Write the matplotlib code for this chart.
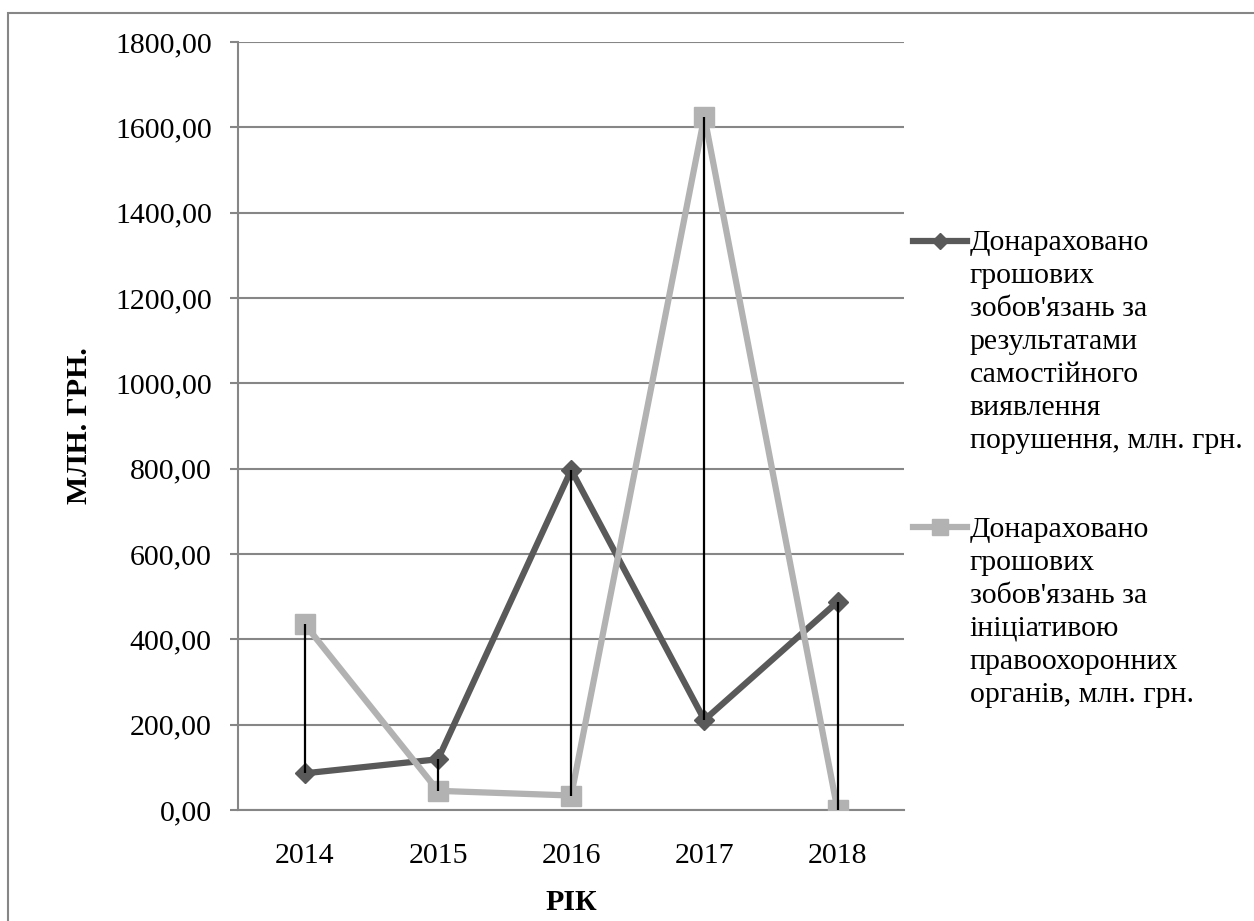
import matplotlib.pyplot as plt
from matplotlib.patches import Rectangle
from matplotlib.ticker import FuncFormatter

plt.rcParams['font.family'] = ['Liberation Serif', 'DejaVu Serif']

# Дані
years = ['2014', '2015', '2016', '2017', '2018']
samostiyno = [86, 119, 797, 211, 488]
pravoohor = [435, 45, 34, 1625, 0]

label_1 = "Донараховано\nгрошових\nзобов'язань за\nрезультатами\nсамостійного\nвиявлення\nпорушення, млн. грн."
label_2 = "Донараховано\nгрошових\nзобов'язань за\nініціативою\nправоохоронних\nорганів, млн. грн."

grid_color = '#868686'
fs = 21.5

fig = plt.figure(figsize=(12.54, 9.21), dpi=100)
ax = fig.add_axes([0.190, 0.1205, 0.531, 0.834])

x = list(range(len(years)))
ax.plot(x, samostiyno, color='#595959', lw=4.5, marker='D', ms=10, label=label_1, zorder=3)
ax.plot(x, pravoohor, color='#b2b2b2', lw=4.5, marker='s', ms=14, label=label_2, zorder=3)

# лінії максимум-мінімум
lows = [min(a, b) for a, b in zip(samostiyno, pravoohor)]
highs = [max(a, b) for a, b in zip(samostiyno, pravoohor)]
ax.vlines(x, lows, highs, color='black', lw=1.6, zorder=4)

ax.set_xlim(-0.5, 4.5)
ax.set_ylim(0, 1800)
ax.set_yticks(range(0, 1801, 200))
ax.yaxis.set_major_formatter(FuncFormatter(lambda v, p: f'{v:.2f}'.replace('.', ',')))
ax.set_xticks(x)
ax.set_xticklabels(years)

ax.grid(axis='y', color=grid_color, lw=1.5)
ax.set_axisbelow(True)
for s in ['top', 'right']:
    ax.spines[s].set_visible(False)
for s in ['left', 'bottom']:
    ax.spines[s].set_color(grid_color)
    ax.spines[s].set_linewidth(1.5)
ax.tick_params(axis='y', length=6, width=1.5, color=grid_color, labelsize=fs, pad=13)
ax.tick_params(axis='x', length=0, labelsize=fs, pad=24)

ax.set_ylabel('МЛН. ГРН.', fontsize=fs, fontweight='bold', labelpad=16)
ax.set_xlabel('РІК', fontsize=fs, fontweight='bold', labelpad=14)

leg = ax.legend(loc='upper left', bbox_to_anchor=(0.728, 0.750), bbox_transform=fig.transFigure,
                frameon=False, fontsize=fs, handlelength=1.8, handletextpad=0.1,
                labelspacing=2.1, borderaxespad=0, borderpad=0, markerscale=0.85)
for t in leg.get_texts():
    t.set_linespacing(1.35)
# маркер легенди навпроти першого рядка
for col in leg._legend_handle_box.get_children():
    for row in col.get_children():
        row.align = 'top'

# рамка діаграми
fig.patches.append(Rectangle((8 / 1254, -0.2), 1.2, 1.2 - 13 / 921, transform=fig.transFigure,
                             fill=False, edgecolor=grid_color, lw=1.5))

fig.savefig('out.png', dpi=100)
